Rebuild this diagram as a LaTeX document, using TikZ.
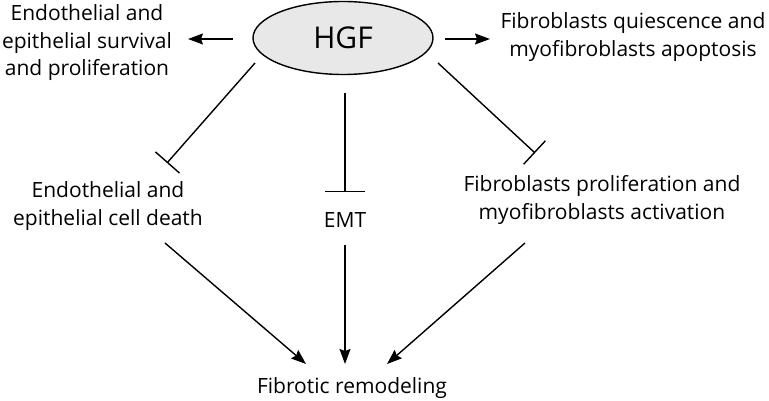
\documentclass[tikz,border=0pt]{standalone}
\usepackage{fontspec}
\setmainfont{Open Sans}
\usetikzlibrary{arrows.meta,shapes.geometric,calc}
\tikzset{
  label/.style={align=center, inner sep=0pt, font=\fontsize{21}{27.5}\selectfont},
  act/.style={line width=1.4pt, -{Stealth[length=15pt,width=11pt,inset=2pt]}},
  inh/.style={line width=1.4pt, -{Bar[width=32pt,line width=1.4pt]}}
}
\begin{document}
\begin{tikzpicture}[x=1pt,y=1pt]
\useasboundingbox (0,0) rectangle (769,401);
\node[ellipse, draw, line width=1.4pt, fill=gray!18, minimum width=180pt, minimum height=73pt,
  font=\fontsize{30}{36}\selectfont] (hgf) at (343,363) {HGF};
\node[label] (surv) at (87,358) {Endothelial and\\epithelial survival\\and proliferation};
\node[label] (quies) at (633,364) {Fibroblasts quiescence and\\myofibroblasts apoptosis};
\node[label] (death) at (108,195) {Endothelial and\\epithelial cell death};
\node[label] (emt) at (345,181) {EMT};
\node[label] (prolif) at (602,201) {Fibroblasts proliferation and\\myofibroblasts activation};
\node[label] (fibro) at (352,13) {Fibrotic remodeling};
% top arrows
\draw[act] ($(hgf)+(-110,-1)$) -- ($(surv)+(101,4)$);
\draw[act] ($(hgf)+(102,-1)$) -- ($(quies)+(-143,-2)$);
% inhibition
\draw[inh] ($(hgf)+(-88,-25)$) -- ($(death)+(59,43)$);
\draw[inh, -{Bar[width=40pt,line width=1.4pt]}] ($(hgf)+(2,-55)$) -- ($(emt)+(0,28)$);
\draw[inh] ($(hgf)+(95,-25)$) -- ($(prolif)+(-67,47)$);
% to remodeling
\draw[act] ($(death)+(57,-37)$) -- ($(fibro)+(-46,24)$);
\draw[act] ($(emt)+(0,-25)$) -- ($(fibro)+(-7,24)$);
\draw[act] ($(prolif)+(-77,-43)$) -- ($(fibro)+(35,24)$);
\end{tikzpicture}
\end{document}
